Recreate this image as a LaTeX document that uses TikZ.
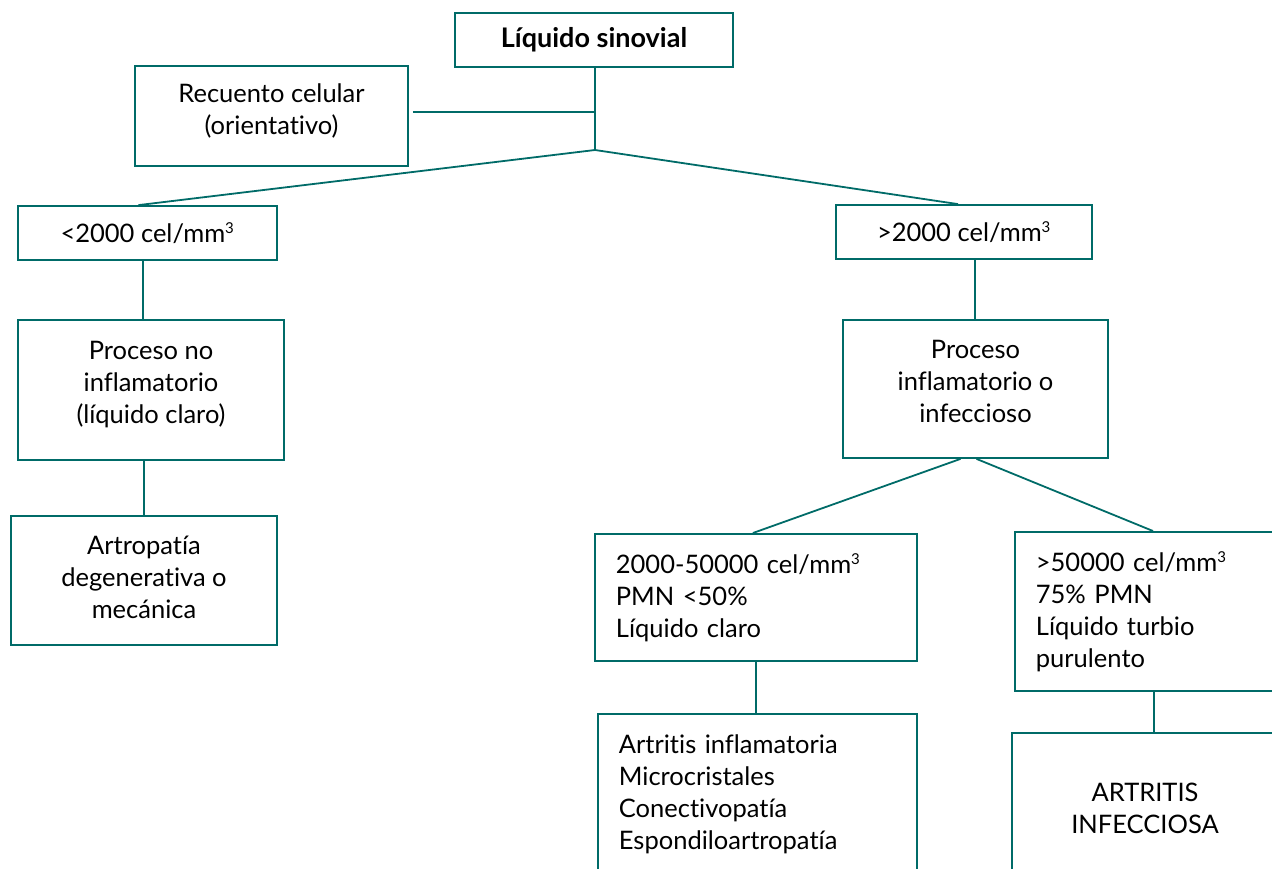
\documentclass[tikz,border=0pt]{standalone}
\usepackage{fontspec}
\setmainfont{Lato}[Ligatures=NoCommon]
\usetikzlibrary{positioning}
\definecolor{sinteal}{RGB}{0,107,104}
\newcommand\cubo{\textsuperscript{\fontsize{15}{15}\selectfont 3}}

\begin{document}
\begin{tikzpicture}[x=1pt,y=-1pt,
box/.style={draw=sinteal,line width=1.8pt,align=center,inner sep=0pt,font=\fontsize{25.5}{32}\selectfont},
lbox/.style={box,align=left,anchor=north west,inner xsep=21pt},
link/.style={draw=sinteal,line width=1.8pt}]
\useasboundingbox (0,0) rectangle (1272,868);
\clip (0,0) rectangle (1272,868);

\node[box,minimum width=278,minimum height=54,font=\fontsize{27}{32}\selectfont] (liq) at (594,40) {\textbf{Líquido sinovial}};
\node[box,minimum width=273,minimum height=100,text depth=14pt] (rec) at (271.5,116) {Recuento celular\\(orientativo)};
\node[box,minimum width=259,minimum height=54] (menos) at (147.5,233) {<2000 cel/mm\cubo};
\node[box,minimum width=256,minimum height=54] (mas) at (964,232) {>2000 cel/mm\cubo};
\node[box,minimum width=266,minimum height=140,text depth=16pt] (noinf) at (151,390) {Proceso no\\inflamatorio\\(líquido claro)};
\node[box,minimum width=266,minimum height=129,text depth=7pt] (artrop) at (144,580.5) {Artropatía\\degenerativa o\\mecánica};
\node[box,minimum width=265,minimum height=138,text depth=16pt] (inf) at (975.5,389) {Proceso\\inflamatorio o\\infeccioso};
\node[lbox,text width=280,minimum height=127] (medio) at (594,533) {2000-50000 cel/mm\cubo\\PMN <50\%\\Líquido claro};
\node[lbox,text width=255,minimum height=159] (alto) at (1014,531) {>50000 cel/mm\cubo\\75\% PMN\\Líquido turbio\\purulento};
\node[lbox,text width=277,minimum height=160] (artfl) at (597,713) {Artritis inflamatoria\\Microcristales\\Conectivopatía\\Espondiloartropatía};
\node[box,minimum width=266,minimum height=150] (artinf) at (1145,808) {ARTRITIS\\INFECCIOSA};

\coordinate (split) at (595,150);
\draw[link] ([xshift=1]liq.south) -- (split);
\draw[link,shorten <=4pt] ([yshift=4]rec.east) -- ([yshift=4]rec.east -| split);
\draw[link] (split) -- ([xshift=-9]menos.north);
\draw[link] (split) -- ([xshift=-6]mas.north);
\draw[link] ([xshift=-4.5]menos.south) coordinate (a) -- (a |- noinf.north);
\draw[link] (artrop.north |- noinf.south) -- (artrop.north);
\draw[link] ([xshift=-0.5]inf.north) coordinate (c) -- (c |- mas.south);
\draw[link] ([xshift=-15]inf.south) -- ([xshift=-3]medio.north);
\draw[link] ([xshift=1]inf.south) -- ([xshift=139]alto.north west);
\draw[link] (medio.south) -- (medio.south |- artfl.north);
\draw[link] ([xshift=140]alto.south west) coordinate (b) -- (b |- artinf.north);
\end{tikzpicture}
\end{document}
